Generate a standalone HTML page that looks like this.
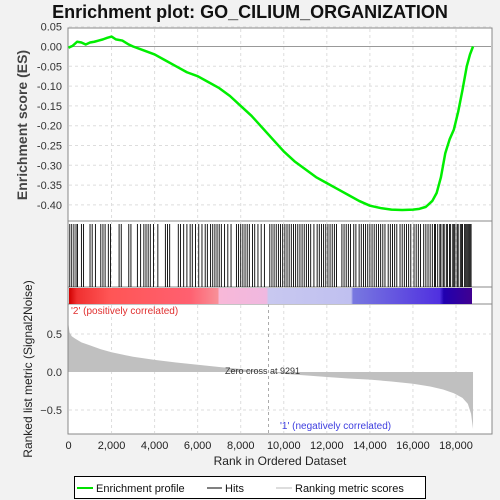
<!DOCTYPE html>
<html><head><meta charset="utf-8"><style>
body{margin:0;background:#f2f2f2;font-family:"Liberation Sans",sans-serif}
</style></head><body>
<svg id="c" width="500" height="500" xmlns="http://www.w3.org/2000/svg" style="display:block">
<defs>
<linearGradient id="cb" x1="0" x2="1" y1="0" y2="0">
<stop offset="0" stop-color="#d00000"/><stop offset="0.02" stop-color="#f03030"/><stop offset="0.1" stop-color="#ff5555"/><stop offset="0.3" stop-color="#ff6070"/><stop offset="0.37" stop-color="#f89098"/>
<stop offset="0.372" stop-color="#f8b8d8"/><stop offset="0.49" stop-color="#f0b8e0"/>
<stop offset="0.495" stop-color="#c8c8f0"/><stop offset="0.7" stop-color="#c0c0f0"/>
<stop offset="0.705" stop-color="#7878e0"/><stop offset="0.92" stop-color="#5030e0"/><stop offset="0.93" stop-color="#2000b0"/><stop offset="1" stop-color="#400090"/>
</linearGradient>
</defs>
<text x="250" y="18" text-anchor="middle" font-size="18" font-weight="bold" fill="#111">Enrichment plot: GO_CILIUM_ORGANIZATION</text>
<rect x="68" y="28" width="424" height="193" fill="#fff" stroke="#888"/>
<rect x="68" y="221" width="424" height="66" fill="#fff" stroke="#888"/>
<rect x="68" y="287" width="424" height="17" fill="#fff" stroke="#888"/>
<rect x="68" y="304" width="424" height="130" fill="#fff" stroke="#888"/>
<g id="grid"></g>
<rect x="69" y="288" width="403" height="16" fill="url(#cb)"/>
<g id="hits"></g>
<g id="metric"></g>
<g id="es"></g>
<g id="axes"></g>
<text x="27" y="125" transform="rotate(-90 27 125)" text-anchor="middle" font-size="14" font-weight="bold" fill="#444">Enrichment score (ES)</text>
<text x="32" y="369" transform="rotate(-90 32 369)" text-anchor="middle" font-size="12" fill="#222">Ranked list metric (Signal2Noise)</text>
<text x="280" y="465" text-anchor="middle" font-size="12" fill="#222">Rank in Ordered Dataset</text>
<text x="71" y="314" font-size="10" fill="#e03030">'2' (positively correlated)</text>
<text x="280" y="429" font-size="10" fill="#4040e0">'1' (negatively correlated)</text>
<rect x="226" y="364" width="84" height="12" fill="#fff" opacity="0.0"/>
<text x="225" y="374" font-size="9" fill="#333">Zero cross at 9291</text>
<g>
<rect x="74.5" y="476.5" width="351" height="22" fill="#fff" stroke="#000"/>
<line x1="77" y1="488" x2="93" y2="488" stroke="#00e000" stroke-width="2"/>
<text x="96" y="492" font-size="11" fill="#111">Enrichment profile</text>
<line x1="207" y1="488" x2="222" y2="488" stroke="#000" stroke-width="1"/>
<text x="225" y="492" font-size="11" fill="#111">Hits</text>
<line x1="276" y1="488" x2="292" y2="488" stroke="#bbb" stroke-width="1"/>
<text x="295" y="492" font-size="11" fill="#111">Ranking metric scores</text>
</g>
</svg>
<script>
const esRanks=[0,200,400,600,800,1000,1200,1400,1600,1800,2000,2200,2500,2800,3000,3500,4000,4500,5000,5500,6000,6500,7000,7500,8000,8500,9000,9500,10000,10500,11000,11500,12000,12500,13000,13500,14000,14500,15000,15500,16000,16300,16600,16900,17100,17300,17500,17700,17900,18100,18300,18500,18650,18790];
const esValues=[-0.003,0.002,0.012,0.01,0.005,0.01,0.012,0.015,0.018,0.022,0.025,0.018,0.015,0.005,0.0,-0.01,-0.02,-0.035,-0.05,-0.065,-0.075,-0.09,-0.105,-0.125,-0.15,-0.175,-0.205,-0.235,-0.265,-0.29,-0.31,-0.33,-0.345,-0.36,-0.375,-0.39,-0.402,-0.408,-0.412,-0.413,-0.412,-0.41,-0.405,-0.39,-0.37,-0.33,-0.27,-0.235,-0.21,-0.165,-0.11,-0.05,-0.02,0.0];
const metricRanks=[0,50,150,300,600,1000,1500,2000,3000,4000,5000,6000,7000,8000,9291,10000,11000,12000,13000,14000,15000,16000,16800,17400,17900,18300,18550,18700,18790];
const metricValues=[0.62,0.52,0.47,0.44,0.39,0.35,0.3,0.26,0.2,0.16,0.125,0.095,0.065,0.04,0.0,-0.025,-0.045,-0.065,-0.085,-0.1,-0.125,-0.155,-0.19,-0.23,-0.28,-0.34,-0.42,-0.55,-0.75];
const hitRanks=[60,150,250,350,420,600,700,1000,1100,1250,1500,1600,1700,1850,1950,2350,2450,2800,2900,3200,3350,3500,3600,3700,3800,3950,4150,4500,4600,4700,5100,5200,5350,5500,5650,5750,5900,6050,6200,6350,6450,6600,6700,6800,6900,7000,7100,7250,7400,7550,7800,7900,8000,8100,8200,8300,8400,8550,8650,8800,8950,9100,9350,9450,9550,9650,9750,9850,9950,10050,10150,10250,10350,10450,10550,10650,10750,10850,10950,11050,11150,11250,11400,11550,11650,11750,11850,11950,12050,12150,12250,12350,12450,12700,12800,12900,13000,13100,13250,13350,13500,13600,13700,13800,13900,14000,14100,14200,14300,14400,14500,14600,14700,14850,14950,15050,15150,15250,15400,15500,15600,15700,15800,15900,16050,16150,16250,16350,16500,16600,16700,16800,16900,17000,17050,17150,17250,17300,17400,17450,17550,17600,17700,17750,17850,17900,17950,18050,18100,18200,18250,18300,18400,18450,18500,18550,18600,18650,18700];
const xTicks=[0,2000,4000,6000,8000,10000,12000,14000,16000,18000];
const esTicks=[0.05,0.0,-0.05,-0.1,-0.15,-0.2,-0.25,-0.3,-0.35,-0.4];
const metricTicks=[0.5,0.0,-0.5];
const NS='http://www.w3.org/2000/svg';
const xs=r=>68.5+r*0.021528;
const ye=v=>46.5-v*396;
const ym=v=>372-v*76;
function mk(t,a,p){const e=document.createElementNS(NS,t);for(const k in a)e.setAttribute(k,a[k]);p.appendChild(e);return e;}
const grid=document.getElementById('grid'),axes=document.getElementById('axes');
xTicks.forEach(t=>{
 if(t>0){const g=mk('line',{x1:xs(t),x2:xs(t),y1:29,y2:433,stroke:'#ddd','stroke-dasharray':'3,3'},grid);
 
 }
 const l=mk('text',{x:xs(t),y:449,'text-anchor':'middle','font-size':'11',fill:'#222'},axes);l.textContent=t.toLocaleString('en-US');
 
 
});
esTicks.forEach(t=>{
 if(t!==0){const g=mk('line',{x1:69,x2:491,y1:ye(t),y2:ye(t),stroke:'#ddd','stroke-dasharray':'3,3'},grid);
 
 }
 const l=mk('text',{x:62,y:ye(t)+4,'text-anchor':'end','font-size':'11',fill:'#333'},axes);l.textContent=t.toFixed(2);
 
 
});
mk('line',{x1:69,x2:491,y1:ye(0),y2:ye(0),stroke:'#999'},grid);
metricTicks.forEach(t=>{
 if(t!==0){const g=mk('line',{x1:69,x2:491,y1:ym(t),y2:ym(t),stroke:'#ddd','stroke-dasharray':'3,3'},grid);
 
 }
 const l=mk('text',{x:62,y:ym(t)+4,'text-anchor':'end','font-size':'11',fill:'#333'},axes);l.textContent=t.toFixed(1).replace('-','\u2212');
 
 
});
mk('line',{x1:xs(9291),x2:xs(9291),y1:304,y2:433,stroke:'#aaa','stroke-dasharray':'3,3'},grid);
const hg=document.getElementById('hits');
hitRanks.forEach(r=>{const h=mk('line',{x1:xs(r),x2:xs(r),y1:224,y2:287,stroke:'#000','stroke-width':'0.9'},hg);
 
 });
let d='M'+xs(0)+','+ym(0);
metricRanks.forEach((r,i)=>{d+=' L'+xs(r)+','+ym(metricValues[i]);});
d+=' L'+xs(metricRanks[metricRanks.length-1])+','+ym(0)+' Z';
const ma=mk('path',{d:d,fill:'#c0c0c0'},document.getElementById('metric'));


const pts=esRanks.map((r,i)=>xs(r)+','+ye(esValues[i])).join(' ');
const el=mk('polyline',{points:pts,fill:'none',stroke:'#00ee00','stroke-width':'2.5','stroke-linejoin':'round'},document.getElementById('es'));


</script>
</body></html>
